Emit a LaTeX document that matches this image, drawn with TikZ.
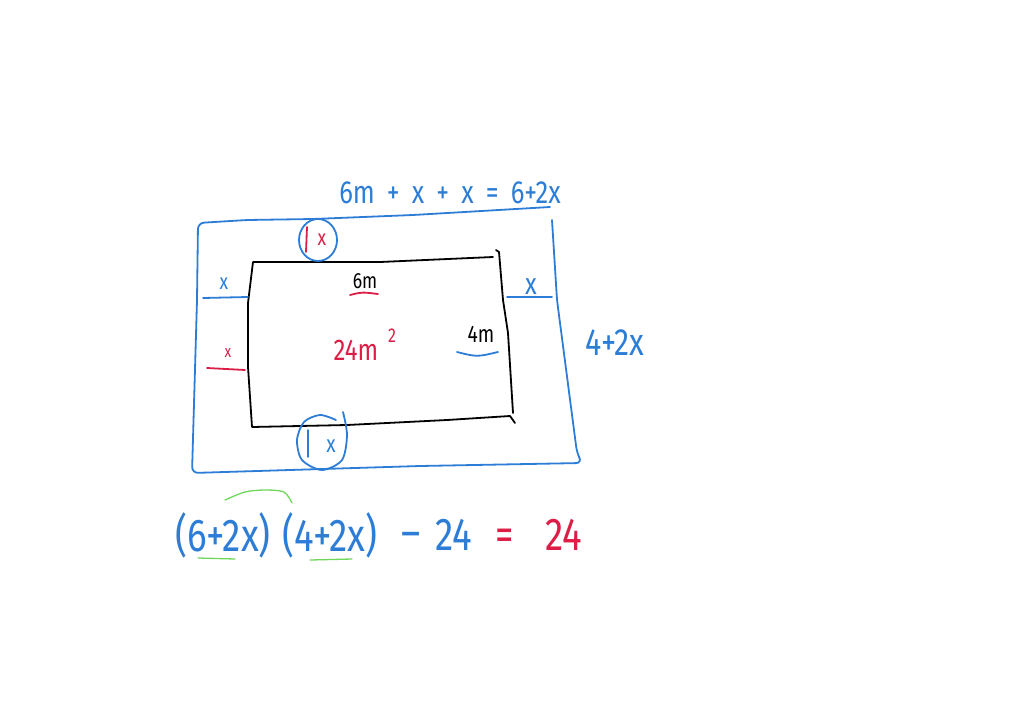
\documentclass[tikz,border=0pt]{standalone}
\usepackage{fontspec}
\newfontfamily\penfont[FakeStretch=0.8]{Fira Sans}
\definecolor{penblue}{RGB}{45,125,215}
\definecolor{penred}{RGB}{220,30,70}
\definecolor{pengreen}{RGB}{110,215,90}

\begin{document}
\begin{tikzpicture}[x=1pt, y=-1pt]
% Define the pen styles
\tikzstyle{stroke} = [line width=1.8pt, line cap=round, line join=round]
\tikzstyle{bluepen} = [stroke, draw=penblue]
\tikzstyle{redpen} = [stroke, draw=penred]
\tikzstyle{blackpen} = [stroke, draw=black]
\tikzstyle{greenpen} = [stroke, draw=pengreen, line width=1.3pt]
\tikzstyle{note} = [inner sep=0pt, font=\penfont]
\tikzstyle{bluenote} = [note, text=penblue]
\tikzstyle{rednote} = [note, text=penred]
\tikzstyle{blacknote} = [note, text=black]

\useasboundingbox (0,0) rectangle (1024,712);

% Outer border (blue)
\draw[bluepen, rounded corners=6pt] (550,207) -- (413,215) -- (313,219) -- (247,220) -- (198,223)
  -- (197,300) -- (192,473) -- (420,466) -- (582,463) -- (577,453) -- (557,300) -- (552,220);

% Inner rectangle (black)
\draw[blackpen] (493,257) -- (380,262) -- (253,262) -- (248,303) -- (248,367) -- (252,427)
  -- (347,425) -- (447,420) -- (510,416) -- (515,423);
\draw[blackpen] (496,250) -- (499,252) -- (503,300) -- (508,333) -- (513,413);

% Define the labels
\node[bluenote, font=\penfont\fontsize{32}{32}\selectfont] (sum) at (450,193) {6m\,\ +\,\ x\,\ +\,\ x\,\ =\,\ 6+2x};
\node[bluenote, font=\penfont\fontsize{38}{38}\selectfont] (side) at (615,343) {4+2x};
\node[blacknote, font=\penfont\fontsize{22}{22}\selectfont] (len) at (365,281) {6m};
\node[blacknote, font=\penfont\fontsize{24}{24}\selectfont] (wid) at (481,334) {4m};
\node[rednote, font=\penfont\fontsize{30}{30}\selectfont] (area) at (356,350) {24m};
\node[rednote, font=\penfont\fontsize{20}{20}\selectfont] (sq) at (392,336) {2};

\node[rednote, font=\penfont\fontsize{22}{22}\selectfont] (xtop) at (322,240) {x};
\node[bluenote, font=\penfont\fontsize{22}{22}\selectfont] (xleft) at (224,284) {x};
\node[bluenote, font=\penfont\fontsize{30}{30}\selectfont] (xright) at (531,287) {x};
\node[rednote, font=\penfont\fontsize{17}{17}\selectfont] (xred) at (228,353) {x};
\node[bluenote, font=\penfont\fontsize{24}{24}\selectfont] (xbot) at (331,446) {x};

% Marks round the x labels
\draw[bluepen] (318,240) ellipse (19 and 21);
\draw[redpen] (307,227) -- (306,252);
\draw[bluepen] plot[smooth] coordinates {(343,412) (347,435) (342,460) (322,470) (302,460) (297,440) (304,422) (320,415) (336,420)};
\draw[bluepen] (308,430) -- (308,457);

% Underlines
\draw[bluepen] (203,298) -- (248,297);
\draw[bluepen] (507,297) -- (552,297);
\draw[redpen] (207,368) -- (245,370);
\draw[redpen] (350,295) .. controls (362,292) .. (378,294);
\draw[bluepen] (457,352) .. controls (477,357) .. (498,352);

% The equation
\node[bluenote, font=\penfont\fontsize{46}{46}\selectfont] (lhsa) at (223,535) {(6+2x)};
\node[bluenote, font=\penfont\fontsize{46}{46}\selectfont] (lhsb) at (330,535) {(4+2x)};
\node[bluenote, font=\penfont\fontsize{46}{46}\selectfont] (minus) at (411,540) {–};
\node[bluenote, font=\penfont\fontsize{46}{46}\selectfont] (old) at (454,535) {24};
\node[rednote, font=\penfont\fontsize{46}{46}\selectfont] (eq) at (505,540) {=};
\node[rednote, font=\penfont\fontsize{46}{46}\selectfont] (new) at (564,535) {24};

% Green marks
\draw[greenpen] plot[smooth] coordinates {(225,500) (245,492) (265,490) (284,492) (292,503)};
\draw[greenpen] (198,558) -- (235,559);
\draw[greenpen] (310,560) -- (352,559);

\end{tikzpicture}
\end{document}
